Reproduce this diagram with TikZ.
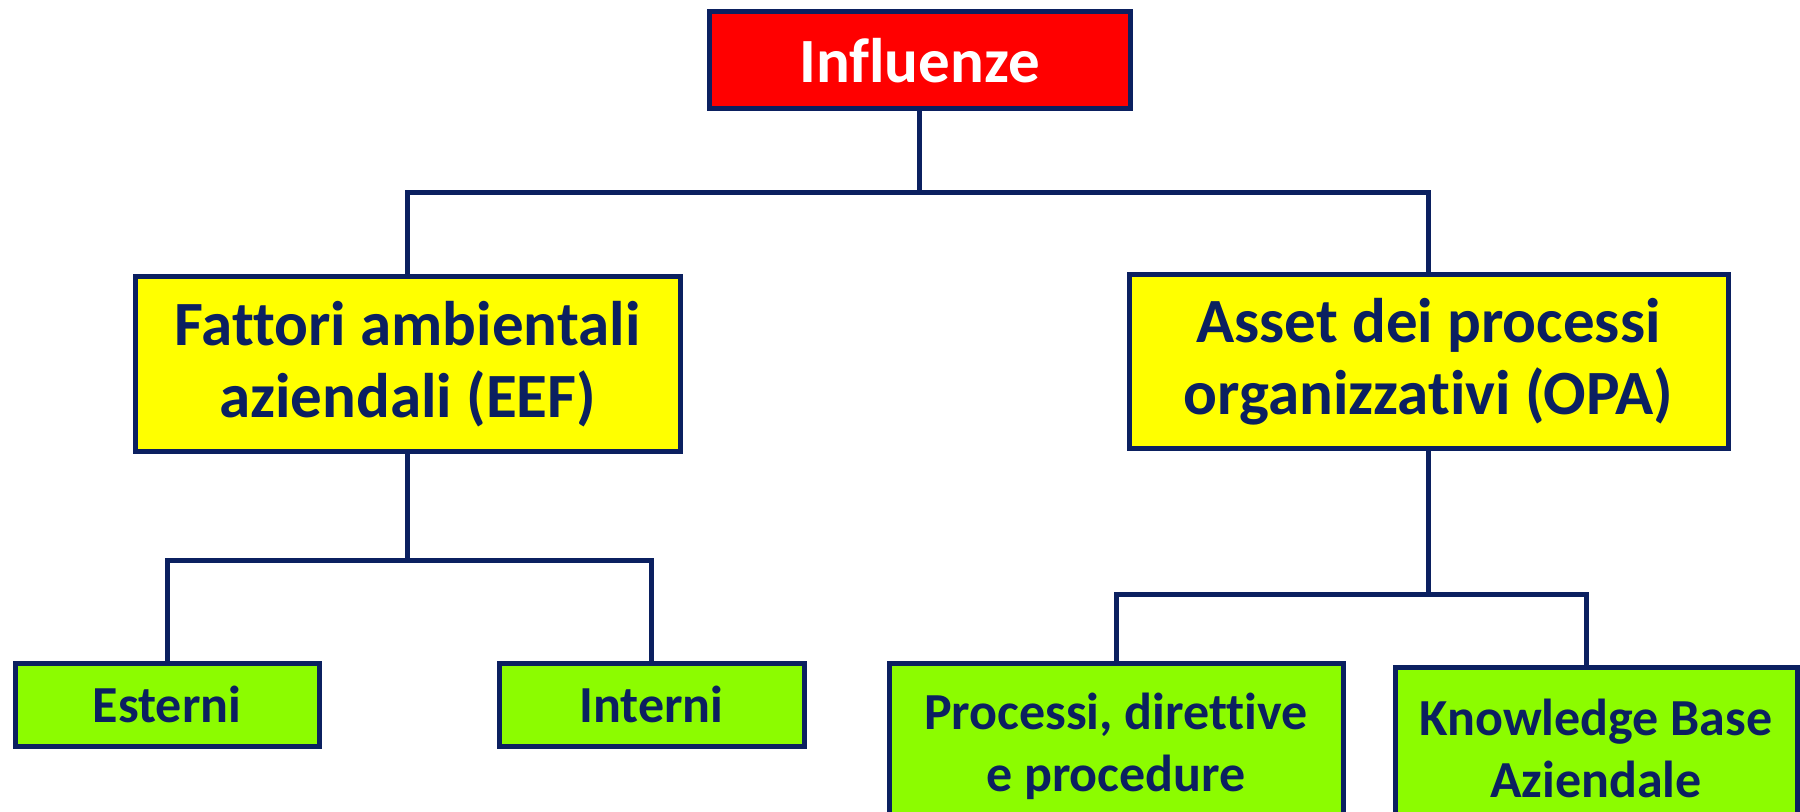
\documentclass[tikz,border=0pt]{standalone}
\usepackage{fontspec}
\setmainfont{Carlito}[Ligatures={NoCommon}]
\definecolor{navy}{HTML}{0B2060}
\definecolor{boxred}{HTML}{FF0000}
\definecolor{boxyellow}{HTML}{FFFF00}
\definecolor{boxgreen}{HTML}{8CFC00}
\begin{document}
\begin{tikzpicture}[x=0.5pt,y=-0.5pt,
  box/.style={draw=navy, line width=2.5pt, align=center, inner sep=0pt,
    font=\bfseries\fontsize{31.5}{36}\selectfont, text=navy},
  redbox/.style={box, fill=boxred, text=white},
  yelbox/.style={box, fill=boxyellow},
  grnbox/.style={box, fill=boxgreen, font=\bfseries\fontsize{26}{31}\selectfont},
  link/.style={draw=navy, line width=2.5pt}]
\fill[white] (0,0) rectangle (1800,812);
\useasboundingbox (0,0) rectangle (1800,812);

\node[redbox, minimum width=210.5pt, minimum height=48.5pt] (inf) at (919.5,60.5) {Influenze};
\node[yelbox, minimum width=272.5pt, minimum height=87.5pt] (eef) at (407.5,364.5) {Fattori ambientali\\aziendali (EEF)};
\node[yelbox, minimum width=299.5pt, minimum height=87pt] (opa) at (1428.5,362) {Asset dei processi\\organizzativi (OPA)};
\node[grnbox, minimum width=152pt, minimum height=41.5pt] (est) at (167,704.5) {Esterni};
\node[grnbox, minimum width=152.5pt, minimum height=41.5pt] (int) at (651.5,704.5) {Interni};
\node[grnbox, minimum width=227pt, minimum height=83.5pt] (proc) at (1116,746.5) {Processi, direttive\\e procedure};
\node[grnbox, minimum width=201pt, minimum height=81.5pt] (kb) at (1596,748.5) {Knowledge Base\\Aziendale};

\coordinate (b1) at (0,193);
\coordinate (b2) at (0,561);
\coordinate (b3) at (0,594);
\coordinate (kbx) at (1586,0);

\draw[link] (inf.south) -- (inf.south |- b1);
\draw[link] (eef.north) -- (eef.north |- b1) -- (opa.north |- b1) -- (opa.north);
\draw[link] (eef.south) -- (eef.south |- b2);
\draw[link] (est.north) -- (est.north |- b2) -- (int.north |- b2) -- (int.north);
\draw[link] (opa.south) -- (opa.south |- b3);
\draw[link] (proc.north) -- (proc.north |- b3) -- (kbx |- b3) -- (kbx |- kb.north);
\end{tikzpicture}
\end{document}
